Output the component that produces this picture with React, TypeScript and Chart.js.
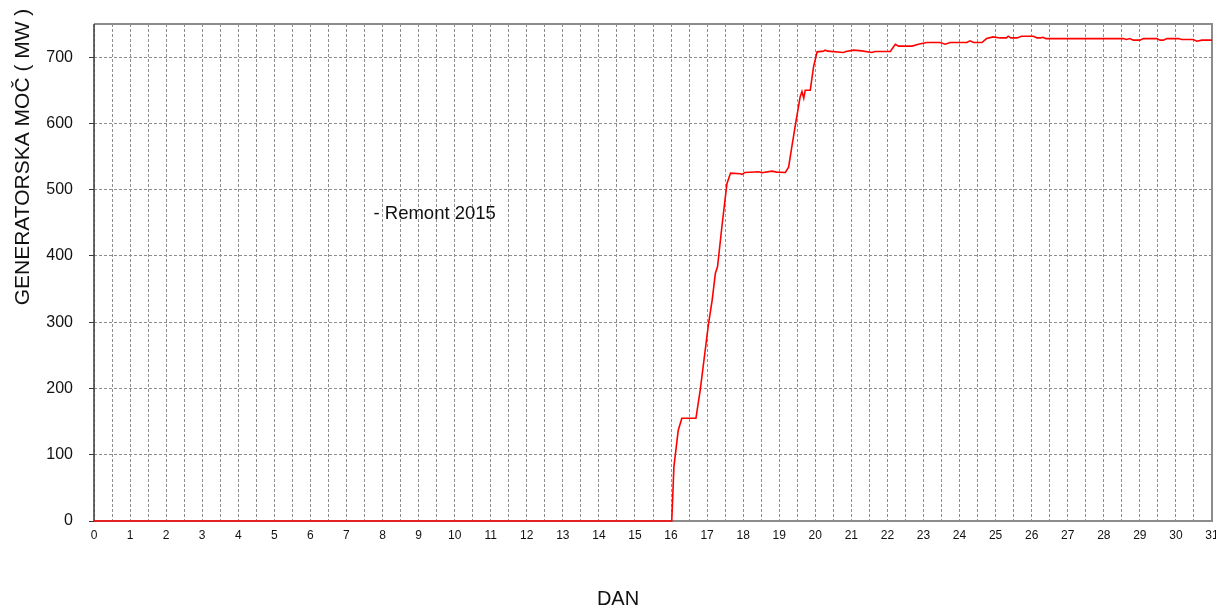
import React, { useEffect, useRef } from "react";
import { Chart, registerables } from "chart.js";

Chart.register(...registerables);

const DAYS = [
  0, 16.02, 16.08, 16.2, 16.3, 16.69, 16.81, 17.04, 17.14, 17.23, 17.29, 17.41, 17.55, 17.65,
  17.92, 17.97, 18.05, 18.43, 18.52, 18.8, 18.93, 19.17, 19.26, 19.35, 19.47, 19.58, 19.63,
  19.68, 19.72, 19.86, 19.95, 20.05, 20.23, 20.27, 20.35, 20.78, 20.85, 21.06, 21.29, 21.57,
  21.65, 22.08, 22.22, 22.31, 22.68, 22.86, 23.09, 23.46, 23.6, 23.74, 24.2, 24.29, 24.39,
  24.62, 24.75, 24.93, 25.12, 25.3, 25.35, 25.42, 25.59, 25.72, 26.05, 26.15, 26.25, 26.3,
  26.4, 28.54, 28.63, 28.72, 28.82, 29.0, 29.1, 29.47, 29.56, 29.65, 29.75, 30.07, 30.16,
  30.48, 30.58, 30.72, 31,
];
const POWER = [
  0, 0, 82, 137, 155, 155, 198, 298, 333, 374, 384, 444, 509, 525,
  524, 523, 526, 527, 525.5, 528, 526.5, 526, 534, 565, 605, 640, 648,
  638, 650, 650, 685, 708, 709, 710.5, 709, 707, 708.5, 710.5, 709.5, 707,
  708.5, 708.5, 719.5, 716.6, 716.6, 719.5, 722, 722, 719.5, 722, 722, 724.5, 722,
  722, 728, 730.6, 729, 729, 731.6, 729, 729, 731.6, 731.6, 729, 729, 730,
  728, 728, 726.6, 728, 725.6, 725.6, 728, 728, 725.6, 725.6, 728, 728, 726.6,
  726.6, 724, 725.6, 725.6,
];

const X_MIN = 0;
const X_MAX = 31;
const X_GRID_STEP = 0.5;
const Y_MIN = 0;
const Y_MAX = 750;
const Y_STEP = 100;

const X_TITLE = "DAN";
const Y_TITLE = "GENERATORSKA MOČ ( MW )";
const NOTE_TEXT = "- Remont 2015";
const NOTE_DAY = 7.75;
const NOTE_VALUE = 464;

const FONT = "'Liberation Sans', Arial, sans-serif";

export default function App() {
  const ref = useRef<HTMLCanvasElement | null>(null);

  useEffect(() => {
    document.body.style.margin = "0";
    const canvas = ref.current;
    if (!canvas) return;

    const framePlugin = {
      id: "frame",
      beforeDatasetsDraw(chart: any) {
        const { ctx, chartArea: a } = chart;
        ctx.save();
        ctx.setLineDash([]);
        ctx.strokeStyle = "#8c8c8c";
        ctx.lineWidth = 2;
        ctx.beginPath();
        ctx.moveTo(a.left, a.top);
        ctx.lineTo(a.right, a.top);
        ctx.lineTo(a.right, a.bottom);
        ctx.lineTo(a.left, a.bottom);
        ctx.stroke();
        ctx.strokeStyle = "#3a3a3a";
        ctx.lineWidth = 1.5;
        ctx.beginPath();
        ctx.moveTo(a.left, a.top);
        ctx.lineTo(a.left, a.bottom);
        ctx.stroke();
        ctx.restore();
      },
      afterDraw(chart: any) {
        const { ctx } = chart;
        const xs = chart.scales.x;
        const ys = chart.scales.y;
        ctx.save();
        ctx.fillStyle = "#111111";
        // note
        ctx.font = `18.5px ${FONT}`;
        ctx.textAlign = "left";
        ctx.textBaseline = "middle";
        ctx.fillText(NOTE_TEXT, xs.getPixelForValue(NOTE_DAY), ys.getPixelForValue(NOTE_VALUE));
        // x title
        ctx.font = `20px ${FONT}`;
        ctx.textAlign = "center";
        ctx.fillText(X_TITLE, 618, 599);
        // y title
        ctx.translate(23, 157);
        ctx.rotate(-Math.PI / 2);
        ctx.font = `21px ${FONT}`;
        ctx.fillText(Y_TITLE, 0, 0);
        ctx.restore();
      },
    };

    const onHundred = (c: any) => c.tick && Number(c.tick.value) % 100 === 0;

    const chart = new Chart(canvas, {
      type: "line",
      data: {
        datasets: [
          {
            data: DAYS.map((d, i) => ({ x: d, y: POWER[i] })),
            borderColor: "#ff0000",
            borderWidth: 1.6,
            pointRadius: 0,
            tension: 0,
            fill: false,
            clip: 4,
          },
        ],
      },
      options: {
        animation: false,
        responsive: false,
        maintainAspectRatio: false,
        layout: { padding: { top: 24, right: 4, left: 0, bottom: 0 } },
        plugins: { legend: { display: false }, tooltip: { enabled: false } },
        scales: {
          x: {
            type: "linear",
            min: X_MIN,
            max: X_MAX,
            afterFit: (s: any) => {
              s.height = 87;
              s.paddingLeft = 0;
              s.paddingRight = 0;
            },
            border: { display: false, dash: [3, 2] },
            grid: { color: "#8e8e8e", lineWidth: 1, drawTicks: false, tickLength: 0 },
            ticks: {
              stepSize: X_GRID_STEP,
              autoSkip: false,
              maxRotation: 0,
              padding: 7,
              color: "#111111",
              font: { family: FONT, size: 12 },
              callback: (v: any) => (Number(v) % 1 === 0 ? String(v) : ""),
            },
          },
          y: {
            type: "linear",
            min: Y_MIN,
            max: Y_MAX,
            afterFit: (s: any) => {
              s.width = 94;
              s.paddingTop = 0;
              s.paddingBottom = 0;
            },
            border: { display: false, dash: [3, 2] },
            grid: {
              color: (c: any) =>
                onHundred(c) && Number(c.tick.value) !== 0 ? "#8e8e8e" : "rgba(0,0,0,0)",
              lineWidth: 1,
              drawTicks: true,
              tickLength: 5,
              tickColor: (c: any) => (onHundred(c) ? "#3a3a3a" : "rgba(0,0,0,0)"),
              tickBorderDash: [],
            },
            ticks: {
              stepSize: Y_STEP,
              padding: 16,
              color: "#111111",
              font: { family: FONT, size: 16 },
              callback: (v: any) => (Number(v) % 100 === 0 ? String(v) : ""),
            },
          },
        },
      },
      plugins: [framePlugin],
    } as any);

    return () => chart.destroy();
  }, []);

  return (
    <div style={{ position: "absolute", left: 0, top: 0, width: 1216, height: 608, background: "#fff" }}>
      <canvas ref={ref} width={1216} height={608} style={{ display: "block" }} />
    </div>
  );
}
